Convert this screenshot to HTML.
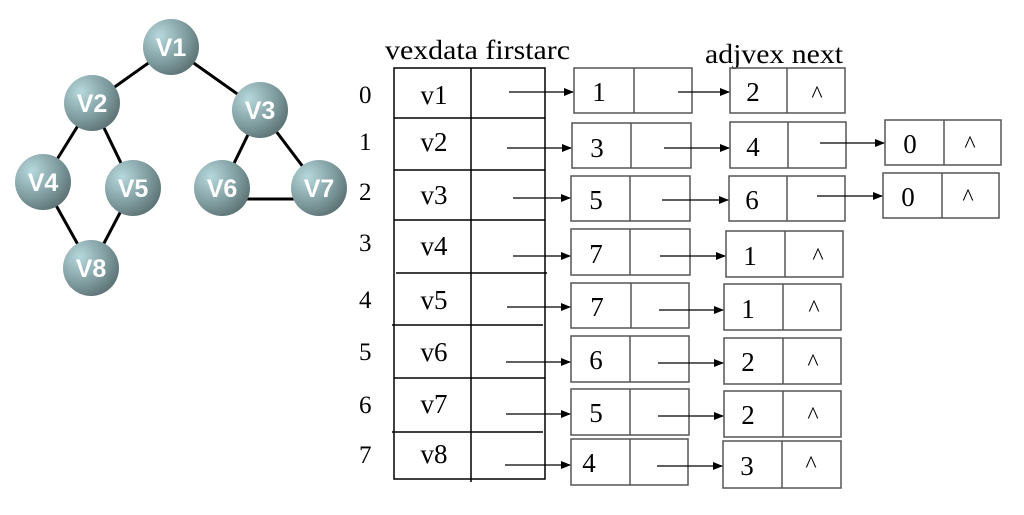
<!DOCTYPE html>
<html><head><meta charset="utf-8"><style>
html,body{margin:0;padding:0;background:#fff;}
svg{display:block}
text{font-family:"Liberation Serif",serif;fill:#000}
.n{font-family:"Liberation Sans",sans-serif;font-weight:bold;fill:#fff;font-size:25px}
</style></head><body>
<svg width="1024" height="515" viewBox="0 0 1024 515" xmlns="http://www.w3.org/2000/svg">
<defs>
<radialGradient id="g" cx="0.3" cy="0.3" r="0.8">
<stop offset="0" stop-color="#b6d8dc"/><stop offset="0.6" stop-color="#7f9c9f"/><stop offset="1" stop-color="#5a6f71"/>
</radialGradient>
<marker id="a" markerWidth="10" markerHeight="8" refX="9" refY="4" orient="auto" markerUnits="userSpaceOnUse"><path d="M0,0 L10,4 L0,8z" fill="#000"/></marker>
</defs>
<g stroke="#000" stroke-width="3">
<line x1="171" y1="47" x2="92" y2="103"/><line x1="171" y1="47" x2="260" y2="110"/>
<line x1="92" y1="103" x2="43" y2="182"/><line x1="92" y1="103" x2="133" y2="188"/>
<line x1="43" y1="182" x2="91" y2="268"/><line x1="133" y1="188" x2="91" y2="268"/>
<line x1="260" y1="110" x2="222" y2="188"/><line x1="260" y1="110" x2="319" y2="188"/>
<line x1="222" y1="199" x2="319" y2="199"/>
</g>
<g fill="url(#g)">
<circle cx="171" cy="47" r="28"/><circle cx="92" cy="103" r="28"/><circle cx="260" cy="110" r="28"/>
<circle cx="43" cy="182" r="28"/><circle cx="133" cy="188" r="28"/><circle cx="222" cy="188" r="28"/>
<circle cx="319" cy="188" r="28"/><circle cx="91" cy="268" r="28"/>
</g>
<g text-anchor="middle">
<text class="n" x="171" y="56">V1</text><text class="n" x="92" y="112">V2</text><text class="n" x="260" y="119">V3</text>
<text class="n" x="43" y="191">V4</text><text class="n" x="133" y="197">V5</text><text class="n" x="222" y="197">V6</text>
<text class="n" x="319" y="197">V7</text><text class="n" x="91" y="277">V8</text>
</g>
<text x="385" y="59" font-size="27" textLength="185" lengthAdjust="spacingAndGlyphs">vexdata firstarc</text>
<text x="705" y="63" font-size="27" textLength="138" lengthAdjust="spacingAndGlyphs">adjvex next</text>
<g stroke="#000" stroke-width="1.5" fill="none">
<rect x="394" y="68" width="151" height="411"/>
<line x1="471" y1="68" x2="471" y2="482"/>
<line x1="394" y1="118" x2="545" y2="118"/><line x1="394" y1="170" x2="545" y2="170"/>
<line x1="394" y1="220" x2="545" y2="220"/><line x1="396" y1="273" x2="547" y2="273"/>
<line x1="392" y1="325" x2="543" y2="325"/><line x1="394" y1="378" x2="545" y2="378"/>
<line x1="392" y1="432" x2="543" y2="432"/>
</g>
<g font-size="25">
<text x="359" y="103">0</text><text x="359" y="150">1</text><text x="359" y="200">2</text><text x="359" y="251">3</text>
<text x="359" y="308">4</text><text x="359" y="360">5</text><text x="359" y="413">6</text><text x="359" y="463">7</text>
</g>
<g font-size="27" text-anchor="middle">
<text x="434" y="104">v1</text><text x="434" y="151">v2</text><text x="434" y="204">v3</text><text x="434" y="255">v4</text>
<text x="434" y="309">v5</text><text x="434" y="361">v6</text><text x="434" y="413">v7</text><text x="434" y="463">v8</text>
</g>
<g stroke="#555" stroke-width="1.5" fill="none">
<rect x="574" y="68" width="118" height="45"/><line x1="634" y1="68" x2="634" y2="113"/>
<rect x="572" y="123" width="119" height="45"/><line x1="631" y1="123" x2="631" y2="168"/>
<rect x="571" y="176" width="119" height="45"/><line x1="630" y1="176" x2="630" y2="221"/>
<rect x="571" y="229" width="119" height="46"/><line x1="630" y1="229" x2="630" y2="275"/>
<rect x="571" y="283" width="118" height="45"/><line x1="631" y1="283" x2="631" y2="328"/>
<rect x="571" y="336" width="118" height="46"/><line x1="630" y1="336" x2="630" y2="382"/>
<rect x="571" y="389" width="118" height="46"/><line x1="630" y1="389" x2="630" y2="435"/>
<rect x="571" y="439" width="117" height="46"/><line x1="630" y1="439" x2="630" y2="485"/>
<rect x="730" y="68" width="115" height="45"/><line x1="787" y1="68" x2="787" y2="113"/>
<rect x="730" y="122" width="116" height="46"/><line x1="788" y1="122" x2="788" y2="168"/>
<rect x="729" y="176" width="116" height="45"/><line x1="787" y1="176" x2="787" y2="221"/>
<rect x="726" y="231" width="117" height="46"/><line x1="785" y1="231" x2="785" y2="277"/>
<rect x="724" y="284" width="117" height="46"/><line x1="783" y1="284" x2="783" y2="330"/>
<rect x="724" y="338" width="117" height="46"/><line x1="783" y1="338" x2="783" y2="384"/>
<rect x="724" y="391" width="117" height="46"/><line x1="783" y1="391" x2="783" y2="437"/>
<rect x="723" y="441" width="118" height="47"/><line x1="782" y1="441" x2="782" y2="488"/>
<rect x="885" y="120" width="116" height="45"/><line x1="944" y1="120" x2="944" y2="165"/>
<rect x="883" y="173" width="116" height="45"/><line x1="942" y1="173" x2="942" y2="218"/>
</g>
<g stroke="#000" stroke-width="1.3" marker-end="url(#a)">
<line x1="509" y1="92" x2="573" y2="92"/><line x1="507" y1="148" x2="571" y2="148"/>
<line x1="513" y1="198" x2="570" y2="198"/><line x1="513" y1="256" x2="570" y2="256"/>
<line x1="507" y1="307" x2="570" y2="307"/><line x1="506" y1="362" x2="570" y2="362"/>
<line x1="506" y1="414" x2="570" y2="414"/><line x1="505" y1="465" x2="570" y2="465"/>
<line x1="678" y1="92" x2="729" y2="92"/><line x1="664" y1="148" x2="729" y2="148"/>
<line x1="662" y1="200" x2="728" y2="200"/><line x1="660" y1="256" x2="725" y2="256"/>
<line x1="659" y1="310" x2="723" y2="310"/><line x1="658" y1="363" x2="723" y2="363"/>
<line x1="658" y1="416" x2="723" y2="416"/><line x1="657" y1="466" x2="722" y2="466"/>
<line x1="820" y1="143" x2="884" y2="143"/><line x1="817" y1="196" x2="882" y2="196"/>
</g>
<g font-size="27" text-anchor="middle">
<text x="599" y="101">1</text><text x="597" y="157">3</text><text x="596" y="209">5</text><text x="596" y="263">7</text>
<text x="597" y="316">7</text><text x="596" y="369">6</text><text x="596" y="422">5</text><text x="589" y="472">4</text>
<text x="753" y="101">2</text><text x="753" y="156">4</text><text x="752" y="209">6</text><text x="750" y="265">1</text>
<text x="748" y="318">1</text><text x="748" y="371">2</text><text x="748" y="424">2</text><text x="747" y="475">3</text>
<text x="910" y="153">0</text><text x="908" y="206">0</text>
</g>
<g font-size="24" text-anchor="middle">
<text x="817" y="102">^</text><text x="970" y="152">^</text><text x="968" y="205">^</text>
<text x="818" y="264">^</text><text x="814" y="316">^</text><text x="813" y="370">^</text>
<text x="813" y="423">^</text><text x="811" y="472">^</text>
</g>
</svg>
</body></html>
